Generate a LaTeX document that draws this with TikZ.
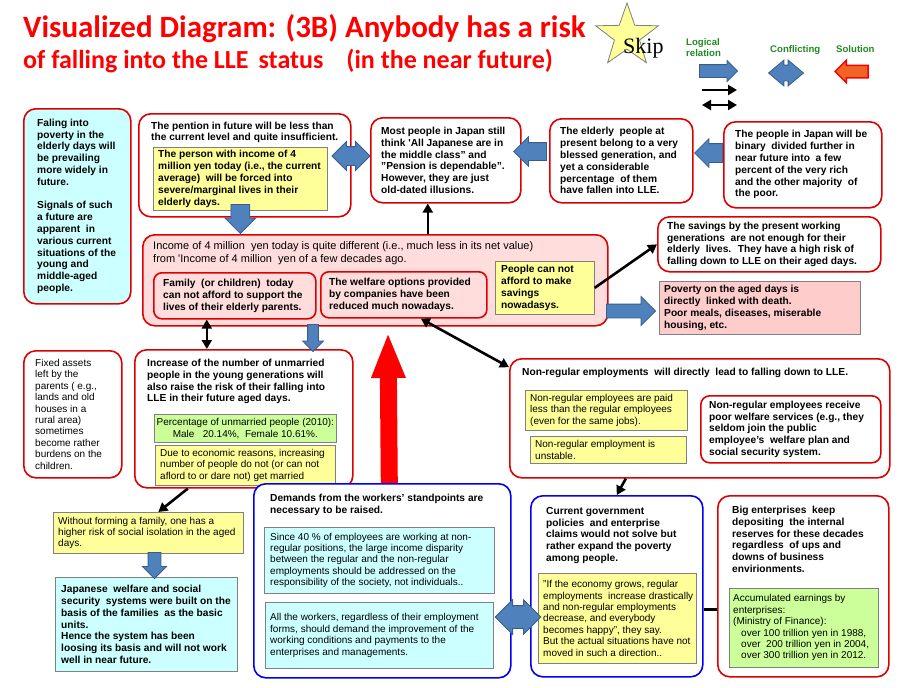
\documentclass[tikz,border=0pt]{standalone}
\usepackage{fontspec}
\setmainfont{Liberation Sans}
\newfontfamily\headfont{Carlito}
\newfontfamily\skipfont{Liberation Serif}
\usetikzlibrary{arrows.meta,positioning,shapes.geometric,shapes.arrows}

\definecolor{framered}{RGB}{222,0,0}
\definecolor{frameblue}{RGB}{0,0,245}
\definecolor{boxline}{RGB}{128,128,128}
\definecolor{cyanbg}{RGB}{204,255,255}
\definecolor{yellowbg}{RGB}{255,255,153}
\definecolor{pinkbg}{RGB}{255,221,221}
\definecolor{rosebg}{RGB}{255,204,204}
\definecolor{greenbg}{RGB}{204,255,153}
\definecolor{arrowfill}{RGB}{79,129,189}
\definecolor{arrowline}{RGB}{56,93,138}
\definecolor{legendgreen}{RGB}{34,139,34}
\definecolor{starfill}{RGB}{255,255,153}
\definecolor{solfill}{RGB}{240,100,40}

\tikzset{
  >={Triangle[length=9pt,width=10pt]},
  frame/.style={draw=framered, line width=1.6pt, rounded corners=12pt, fill=white, inner sep=0pt, anchor=north west},
  bframe/.style={frame, draw=frameblue},
  note/.style={draw=boxline, line width=0.7pt, inner sep=0pt, anchor=north west},
  btxt/.style={align=left, inner sep=0pt, font=\bfseries\fontsize{10.2}{11.8}\selectfont},
  rtxt/.style={align=left, inner sep=0pt, font=\fontsize{10}{11.4}\selectfont},
  headtxt/.style={text=red, inner sep=0pt, anchor=base west, font=\headfont\bfseries\fontsize{31}{34}\selectfont},
  legend/.style={text=legendgreen, align=left, inner sep=0pt, font=\bfseries\fontsize{9.6}{11}\selectfont},
  blockarrow/.style={single arrow, draw=arrowline, fill=arrowfill, line width=0.8pt, single arrow tip angle=90, anchor=tip},
  conflict/.style={double arrow, draw=arrowline, fill=arrowfill, line width=0.8pt, double arrow tip angle=90},
  blk/.style={line width=2.6pt, ->},
  blkdbl/.style={line width=2.6pt, <->},
}

\begin{document}
\begin{tikzpicture}[x=1pt, y=-1pt]
\useasboundingbox (0,0) rectangle (908,688);
\fill[white] (0,0) rectangle (908,688);

% title and legend
\node[headtxt] (title) at (23,37) {Visualized Diagram: (3B) Anybody has a risk};
\node[headtxt, font=\headfont\bfseries\fontsize{26}{28}\selectfont] (subtitle) at (23,68) {of falling into the LLE\hspace{10pt}status\hspace{23pt}(in the near future)};
\node[star, star points=5, star point ratio=2.5, minimum size=66pt, inner sep=0pt, fill=starfill, draw=gray, line width=0.8pt] (skip) at (627,36) {};
\node[inner sep=0pt, anchor=base west, font=\skipfont\fontsize{22}{24}\selectfont] (skiptxt) at (623,53) {Skip};
\node[legend, anchor=north west] (keylogictxt) at (686,38) {Logical\\relation};
\node[legend, anchor=base west] (keyconflicttxt) at (770,52) {Conflicting};
\node[legend, anchor=base west] (keysolutiontxt) at (836,52) {Solution};
\node[blockarrow, inner sep=6pt, single arrow head extend=4pt, minimum height=38pt] (keylogic) at (738,71) {};
\node[conflict, double arrow tip angle=80, inner sep=7.5pt, double arrow head extend=5pt, minimum height=35pt] (keyconflict) at (786,73) {};
\node[blockarrow, shape border rotate=180, draw=red, line width=1.5pt, fill=solfill, inner sep=5.5pt, single arrow head extend=5pt, minimum height=33pt] (keysolution) at (834,71.5) {};
\coordinate (keyA) at (702,90);
\coordinate (keyB) at (737,90);
\draw[blk] (keyA) -- (keyB);
\coordinate (keyC) at (702,105);
\coordinate (keyD) at (737,105);
\draw[blkdbl] (keyC) -- (keyD);

% top row
\node[frame, fill=cyanbg, minimum width=107, minimum height=195] (falling) at (23,108) {};
\node[btxt, right=14pt of falling.west] (fallingtxt) {Faling into\\poverty in the\\elderly days will\\be prevailing\\more widely in\\future.\\[11.8pt]Signals of such\\a future are\\apparent \ in\\various current\\situations of the\\young and\\middle-aged\\people.};

\node[frame, minimum width=212, minimum height=103] (pention) at (138,113) {};
\node[btxt, below right=8.5pt and 13pt of pention.north west] (pentiontxt) {The pention in future will be less than\\the current level and quite insufficient.};
\node[note, fill=yellowbg, minimum width=174, minimum height=63] (forced) at (153,147) {};
\node[btxt, right=5pt of forced.west] (forcedtxt) {The person with income of 4\\million yen today (i.e., the current\\average) \ will be forced into\\severe/marginal lives in their\\elderly days.};

\node[frame, minimum width=150, minimum height=85] (illusion) at (370,117) {};
\node[btxt, right=11pt of illusion.west] (illusiontxt) {Most people in Japan still\\think \textquotesingle All Japanese are in\\the middle class" and\\"Pension is dependable".\\However, they are just\\old-dated illusions.};

\node[frame, minimum width=143, minimum height=84] (blessed) at (549,118) {};
\node[btxt, right=11pt of blessed.west] (blessedtxt) {The elderly \ people at\\present belong to a very\\blessed generation, and\\yet a considerable\\percentage \ of them\\have fallen into LLE.};

\node[frame, minimum width=158, minimum height=86] (binary) at (723,121) {};
\node[btxt, right=12pt of binary.west] (binarytxt) {The people in Japan will be\\binary \ divided further in\\near future into \ a few\\percent of the very rich\\and the other majority \ of\\the poor.};

\node[frame, minimum width=223, minimum height=55] (savings) at (657,216) {};
\node[btxt, right=10pt of savings.west] (savingstxt) {The savings by the present working\\generations \ are not enough for their\\elderly \ lives. \ They have a high risk of\\falling down to LLE on their aged days.};

\node[note, fill=rosebg, minimum width=201, minimum height=53] (poverty) at (659,281) {};
\node[btxt, right=5pt of poverty.west] (povertytxt) {Poverty on the aged days is\\directly \ linked with death.\\Poor meals, diseases, miserable\\housing, etc.};

% middle row
\node[frame, fill=pinkbg, minimum width=465, minimum height=91] (income) at (142,234) {};
\node[rtxt, font=\fontsize{11}{13}\selectfont, below right=7pt and 11pt of income.north west] (incometxt) {Income of 4 million \ yen today is quite different (i.e., much less in its net value)\\from \textquotesingle Income of 4 million \ yen of a few decades ago.};
\node[frame, fill=pinkbg, rounded corners=8pt, minimum width=162, minimum height=46] (family) at (153,272) {};
\node[btxt, right=10pt of family.west] (familytxt) {Family \ (or children) \ today\\can not afford to support the\\lives of their elderly parents.};
\node[frame, fill=pinkbg, rounded corners=8pt, minimum width=166, minimum height=46] (welfare) at (320,271) {};
\node[btxt, right=9pt of welfare.west] (welfaretxt) {The welfare options provided\\by companies have been\\reduced much nowadays.};
\node[note, fill=yellowbg, minimum width=99, minimum height=53] (nosave) at (495,261) {};
\node[btxt, right=6pt of nosave.west] (nosavetxt) {People can not\\afford to make\\savings\\nowadasys.};

\node[frame, minimum width=98, minimum height=127] (assets) at (23,350) {};
\node[rtxt, right=12pt of assets.west] (assetstxt) {Fixed assets\\left by the\\parents ( e.g.,\\lands and old\\houses in a\\rural area)\\sometimes\\become rather\\burdens on the\\children.};

\node[frame, minimum width=218, minimum height=138] (unmarried) at (134,349) {};
\node[btxt, below right=10pt and 13pt of unmarried.north west] (unmarriedtxt) {Increase of the number of unmarried\\people in the young generations will\\also raise the risk of their falling into\\LLE in their future aged days.};
\node[note, fill=greenbg, minimum width=182, minimum height=28] (ratio) at (154,414) {};
\node[rtxt, align=center] (ratiotxt) at (ratio.center) {Percentage of unmarried people (2010):\\Male \ \ 20.14\%, \ Female 10.61\%.};
\node[note, fill=yellowbg, minimum width=180, minimum height=40] (reasons) at (155,445) {};
\node[rtxt, right=5pt of reasons.west] (reasonstxt) {Due to economic reasons, increasing\\number of people do not (or can not\\aflord to or dare not) get married};

\node[frame, minimum width=380, minimum height=119] (nonreg) at (509,358) {};
\node[btxt, below right=10pt and 13pt of nonreg.north west] (nonregtxt) {Non-regular employments \ will directly \ lead to falling down to LLE.};
\node[note, fill=yellowbg, minimum width=162, minimum height=40] (lesspay) at (525,390) {};
\node[rtxt, right=5pt of lesspay.west] (lesspaytxt) {Non-regular employees are paid\\less than the regular employees\\(even for the same jobs).};
\node[note, fill=yellowbg, minimum width=156, minimum height=27] (unstable) at (530,436) {};
\node[rtxt, right=5pt of unstable.west] (unstabletxt) {Non-regular employment is\\unstable.};
\node[frame, rounded corners=9pt, minimum width=180, minimum height=67] (poorwelfare) at (700,395) {};
\node[btxt, right=9pt of poorwelfare.west] (poorwelfaretxt) {Non-regular employees receive\\poor welfare services (e.g., they\\seldom join the public\\employee's \ welfare plan and\\social security system.};

% bottom row
\node[note, fill=yellowbg, minimum width=190, minimum height=41] (isolation) at (53,512) {};
\node[rtxt, right=5pt of isolation.west] (isolationtxt) {Without forming a family, one has a\\higher risk of social isolation in the aged\\days.};
\node[note, fill=cyanbg, minimum width=182, minimum height=94] (basis) at (55,577) {};
\node[btxt, right=6pt of basis.west] (basistxt) {Japanese \ welfare and social\\security \ systems were built on the\\basis of the families \ as the basic\\units.\\Hence the system has been\\loosing its basis and will not work\\well in near future.};

\node[bframe, minimum width=257, minimum height=194] (demands) at (253,483) {};
\node[btxt, below right=11pt and 17pt of demands.north west] (demandstxt) {Demands from the workers' standpoints are\\necessary to be raised.};
\node[note, fill=cyanbg, minimum width=230, minimum height=66] (disparity) at (264,527) {};
\node[rtxt, right=6pt of disparity.west] (disparitytxt) {Since 40 \% of employees are working at non-\\regular positions, the large income disparity\\between the regular and the non-regular\\employments should be addressed on the\\responsibility of the society, not individuals..};
\node[note, fill=cyanbg, minimum width=228, minimum height=66] (allworkers) at (265,602) {};
\node[rtxt, right=5pt of allworkers.west] (allworkerstxt) {All the workers, regardless of their employment\\forms, should demand the improvement of the\\working conditions and payments to the\\enterprises and managements.};

\node[bframe, minimum width=172, minimum height=181] (policies) at (530,495) {};
\node[btxt, below right=12pt and 16pt of policies.north west] (policiestxt) {Current government\\policies \ and enterprise\\claims would not solve but\\rather expand the poverty\\among people.};
\node[note, fill=yellowbg, minimum width=158, minimum height=90] (growth) at (538,573) {};
\node[rtxt, right=5pt of growth.west] (growthtxt) {"If the economy grows, regular\\employments \ increase drastically\\and non-regular employments\\decrease, and everybody\\becomes happy'', they say.\\But the actual situations have not\\moved in such a direction..};

\node[frame, minimum width=171, minimum height=181] (reserves) at (717,495) {};
\node[btxt, below right=11pt and 15pt of reserves.north west] (reservestxt) {Big enterprises \ keep\\depositing \ the internal\\reserves for these decades\\regardless \ of ups and\\downs of business\\envirionments.};
\node[note, fill=greenbg, minimum width=149, minimum height=79] (earnings) at (729,588) {};
\node[rtxt, right=4pt of earnings.west] (earningstxt) {Accumulated earnings by\\enterprises:\\(Ministry of Finance):\\\hspace*{8pt}over 100 trillion yen in 1988,\\\hspace*{8pt}over \ 200 trillion yen in 2004,\\\hspace*{8pt}over 300 trillion yen in 2012.};

% block arrows
\node[conflict, inner sep=9pt, double arrow head extend=5pt, minimum height=38pt] (pentionconflict) at (351,156) {};
\node[blockarrow, shape border rotate=180, inner sep=8.5pt, single arrow head extend=6pt, minimum height=33pt] (toillusion) at (513,151.5) {};
\node[blockarrow, shape border rotate=180, inner sep=9pt, single arrow head extend=5pt, minimum height=25pt] (toblessed) at (694,153) {};
\node[blockarrow, shape border rotate=270, inner sep=9pt, single arrow head extend=6pt, minimum height=29pt] (toincome) at (forced.south |- income.north) {};
\node[blockarrow, inner sep=6.5pt, single arrow head extend=7.5pt, minimum height=49pt] (topoverty) at (656,311) {};
\node[blockarrow, shape border rotate=270, inner sep=5pt, single arrow head extend=5pt, minimum height=27pt] (tounmarried) at (313,352) {};
\node[blockarrow, shape border rotate=270, inner sep=6pt, single arrow head extend=5.5pt, minimum height=26pt] (tobasis) at (154.5,579) {};
\node[conflict, inner sep=11pt, double arrow head extend=6pt, minimum height=42pt] (demandsconflict) at (518,617) {};

% connectors
\coordinate (upfoot) at ([xshift=-18pt]illusion.south);
\draw[blk] (income.north -| upfoot) -- (upfoot);
\draw[blk] (nosave.east) -- (savings.west);
\draw[blkdbl] ([xshift=17pt]welfare.south) -- (nonreg.165);
\draw[blkdbl] ([xshift=-28pt]family.south) -- ([xshift=-28pt]family.south |- unmarried.north);
\draw[blk] ([xshift=-74pt]nonreg.south) -- (policies.north);
\draw[blk] ([xshift=-56pt]unmarried.south) -- ([xshift=10pt]isolation.north);
\draw[line width=2.6pt] ([yshift=-23pt]policies.east) -- ([yshift=-23pt]policies.east -| reserves.west);
\coordinate (redtip) at (388,332);
\draw[line width=17pt, red, -{Triangle[length=46pt,width=31pt]}] ([xshift=7pt]demands.north) -- (redtip);
\end{tikzpicture}
\end{document}
